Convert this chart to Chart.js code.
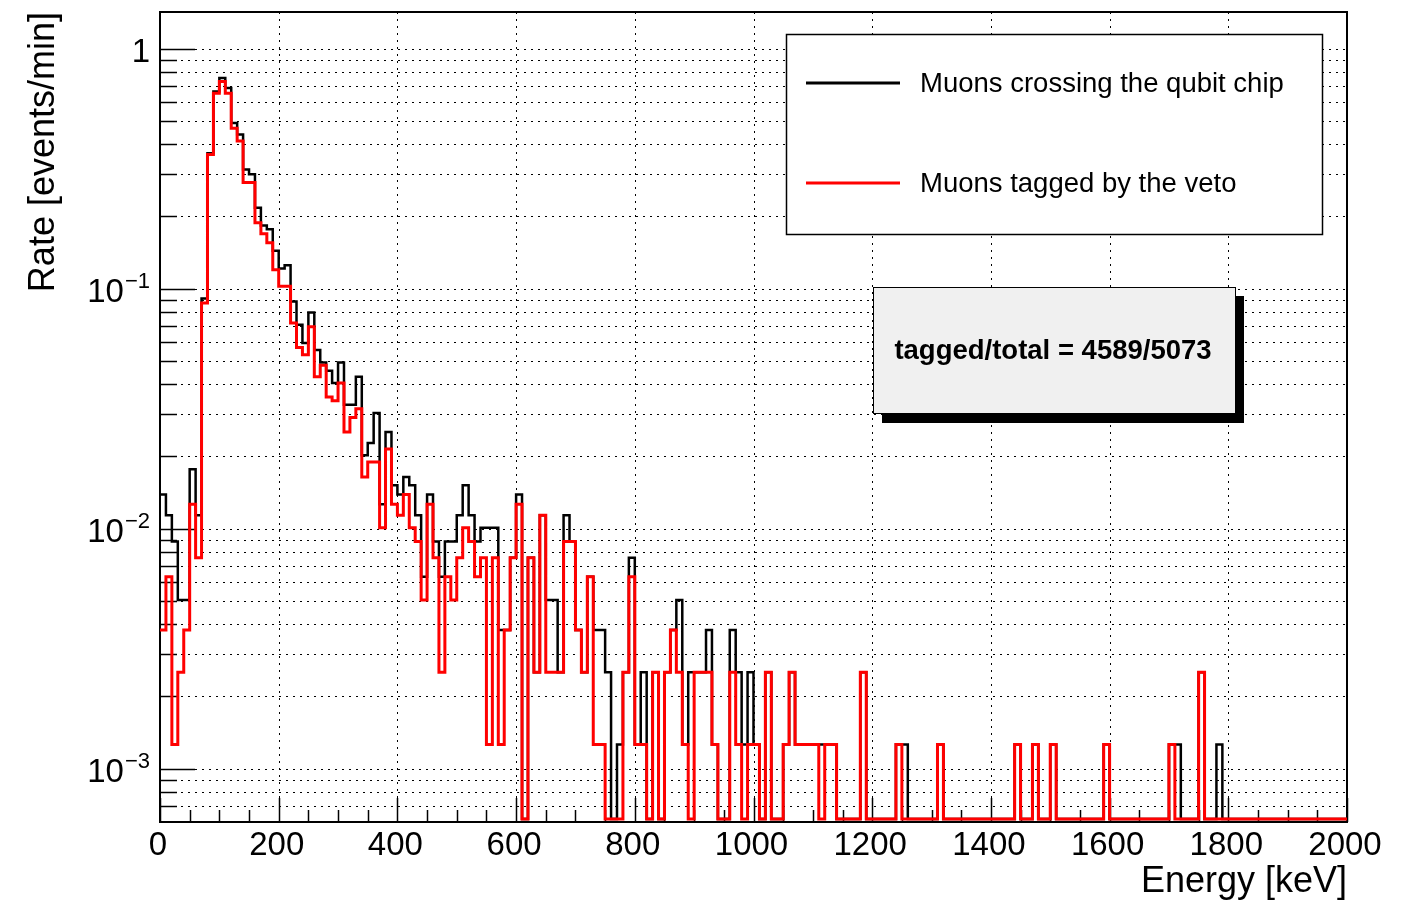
<!DOCTYPE html>
<html>
<head>
<meta charset="utf-8">
<script src="https://cdn.jsdelivr.net/npm/chart.js@4.4.1/dist/chart.umd.min.js"></script>
<style>
  html, body { margin: 0; padding: 0; background: #fff; }
  #wrap { width: 1411px; height: 901px; }
</style>
</head>
<body>
<div id="wrap"><canvas id="chart" width="1411" height="901"></canvas></div>
<script>
// histogram: 200 bins of 10 keV, counts per bin, rate = counts / live time
const binWidth = 10;
const liveTimeMin = 792;

const totalCounts = [
  11, 9, 7, 4, 4, 14, 9, 72, 290, 525,
  597, 542, 388, 347, 248, 237, 172, 145, 140, 114,
  96, 99, 70, 56, 47, 63, 44, 39, 36, 32,
  39, 26, 26, 34, 16, 18, 24, 10, 20, 12,
  11, 13, 12, 9, 5, 11, 7, 5, 7, 7,
  9, 12, 9, 7, 8, 8, 8, 3, 3, 6,
  11, 0, 6, 2, 9, 4, 4, 2, 9, 7,
  3, 2, 5, 3, 3, 2, 0, 1, 2, 6,
  1, 2, 0, 2, 0, 2, 3, 4, 1, 2,
  2, 2, 3, 1, 0, 0, 3, 2, 1, 2,
  1, 0, 2, 0, 0, 1, 2, 1, 1, 1,
  1, 1, 1, 1, 0, 0, 0, 0, 2, 0,
  0, 0, 0, 0, 1, 1, 0, 0, 0, 0,
  0, 1, 0, 0, 0, 0, 0, 0, 0, 0,
  0, 0, 0, 0, 1, 0, 0, 1, 0, 0,
  1, 0, 0, 0, 0, 0, 0, 0, 0, 1,
  0, 0, 0, 0, 0, 0, 0, 0, 0, 0,
  1, 1, 0, 0, 0, 2, 0, 0, 1, 0,
  0, 0, 0, 0, 0, 0, 0, 0, 0, 0,
  0, 0, 0, 0, 0, 0, 0, 0, 0, 0
];

const taggedCounts = [
  3, 5, 1, 2, 3, 10, 6, 69, 287, 516,
  578, 516, 369, 326, 219, 219, 149, 134, 123, 95,
  81, 81, 57, 45, 42, 55, 34, 38, 28, 27,
  32, 20, 23, 25, 13, 15, 15, 8, 17, 10,
  9, 11, 8, 7, 4, 10, 6, 2, 5, 4,
  6, 8, 7, 5, 6, 1, 6, 1, 3, 6,
  10, 0, 6, 2, 9, 2, 2, 2, 7, 7,
  3, 2, 5, 1, 1, 0, 0, 0, 2, 5,
  1, 1, 0, 2, 0, 2, 3, 2, 1, 0,
  2, 2, 2, 1, 0, 0, 2, 1, 0, 1,
  1, 0, 2, 0, 0, 1, 2, 1, 1, 1,
  1, 0, 1, 1, 0, 0, 0, 0, 2, 0,
  0, 0, 0, 0, 1, 0, 0, 0, 0, 0,
  0, 1, 0, 0, 0, 0, 0, 0, 0, 0,
  0, 0, 0, 0, 1, 0, 0, 1, 0, 0,
  1, 0, 0, 0, 0, 0, 0, 0, 0, 1,
  0, 0, 0, 0, 0, 0, 0, 0, 0, 0,
  1, 0, 0, 0, 0, 2, 0, 0, 0, 0,
  0, 0, 0, 0, 0, 0, 0, 0, 0, 0,
  0, 0, 0, 0, 0, 0, 0, 0, 0, 0
];

const seriesLabels = ["Muons crossing the qubit chip", "Muons tagged by the veto"];
const seriesColors = ["#000000", "#ff0000"];
const statsText = "tagged/total = 4589/5073";

const xMin = 0, xMax = 2000;
const xTicks = [0, 200, 400, 600, 800, 1000, 1200, 1400, 1600, 1800, 2000];
const xMinorStep = 50;
const yMin = 6.18e-4, yMax = 1.42;
const yDecades = [1, 0.1, 0.01, 0.001];
const yDecadeExp = [0, -1, -2, -3];

const FONT = "'Liberation Sans', Arial, Helvetica, sans-serif";

// log grid positions 1..9 x 10^n inside the axis range
function yGridValues() {
    const vals = [];
    for (let e = -4; e <= 0; e++) {
        for (let m = 1; m <= 9; m++) {
            const v = m * Math.pow(10, e);
            if (v > yMin && v < yMax) vals.push(v);
        }
    }
    return vals;
}

// histogram outline: one point per bin low edge (value held to the next edge),
// plus the upper edge of the last bin
function toSteps(counts) {
    const rate = c => (c > 0 ? c / liveTimeMin : yMin);
    const pts = counts.map((c, i) => ({ x: i * binWidth, y: rate(c) }));
    pts.push({ x: counts.length * binWidth, y: rate(counts[counts.length - 1]) });
    return pts;
}

function line(ctx, x1, y1, x2, y2) {
    ctx.beginPath();
    ctx.moveTo(x1, y1);
    ctx.lineTo(x2, y2);
    ctx.stroke();
}

const rootStyle = {
    id: "rootStyle",
    beforeDatasetsDraw(chart) {
        const { ctx, chartArea: a, scales: { x, y } } = chart;
        ctx.save();

        // dotted grid
        ctx.strokeStyle = "#000";
        ctx.lineWidth = 1;
        ctx.setLineDash([2, 5]);
        xTicks.forEach(v => {
            if (v <= xMin || v >= xMax) return;
            const px = Math.round(x.getPixelForValue(v)) + 0.5;
            line(ctx, px, a.top, px, a.bottom);
        });
        yGridValues().forEach(v => {
            const py = Math.round(y.getPixelForValue(v)) + 0.5;
            line(ctx, a.left, py, a.right, py);
        });
        ctx.setLineDash([]);

        // frame
        ctx.lineWidth = 2;
        ctx.strokeRect(a.left, a.top, a.right - a.left, a.bottom - a.top);

        // ticks inside the frame
        ctx.lineWidth = 1.5;
        yGridValues().forEach(v => {
            const py = Math.round(y.getPixelForValue(v)) + 0.5;
            const major = yDecades.some(d => Math.abs(d - v) / d < 1e-6);
            line(ctx, a.left, py, a.left + (major ? 35 : 17), py);
        });
        for (let v = xMin; v <= xMax; v += xMinorStep) {
            const px = Math.round(x.getPixelForValue(v)) + 0.5;
            const major = xTicks.includes(v);
            line(ctx, px, a.bottom, px, a.bottom - (major ? 24 : 12));
        }
        ctx.restore();
    },
    afterDatasetsDraw(chart) {
        const { ctx, chartArea: a, scales: { x, y } } = chart;
        ctx.save();
        ctx.fillStyle = "#000";

        // x tick labels
        ctx.font = "33px " + FONT;
        ctx.textAlign = "center";
        ctx.textBaseline = "alphabetic";
        xTicks.forEach(v => {
            ctx.fillText(String(v), x.getPixelForValue(v) - 2, 855);
        });

        // y tick labels, 10 with superscript exponent
        yDecades.forEach((v, i) => {
            const py = y.getPixelForValue(v);
            const e = yDecadeExp[i];
            ctx.textAlign = "right";
            if (e === 0) {
                ctx.font = "33px " + FONT;
                ctx.fillText("1", 150, py + 13);
                return;
            }
            const sup = "\u2212" + Math.abs(e);
            ctx.font = "22px " + FONT;
            const ws = ctx.measureText(sup).width;
            ctx.fillText(sup, 150, py - 1);
            ctx.font = "33px " + FONT;
            ctx.fillText("10", 150 - ws - 1, py + 13);
        });

        // axis titles
        ctx.font = "36px " + FONT;
        ctx.textAlign = "right";
        ctx.fillText("Energy [keV]", a.right, 892);
        ctx.save();
        ctx.translate(54, a.top);
        ctx.rotate(-Math.PI / 2);
        ctx.fillText("Rate [events/min]", 0, 0);
        ctx.restore();

        // legend box
        ctx.fillStyle = "#fff";
        ctx.fillRect(786, 34, 536, 200);
        ctx.strokeStyle = "#000";
        ctx.lineWidth = 1.5;
        ctx.strokeRect(786.5, 34.5, 536, 200);
        const rows = [83, 183];
        rows.forEach((ry, i) => {
            ctx.strokeStyle = seriesColors[i];
            ctx.lineWidth = 3;
            line(ctx, 806, ry, 900, ry);
            ctx.fillStyle = "#000";
            ctx.font = "27.5px " + FONT;
            ctx.textAlign = "left";
            ctx.fillText(seriesLabels[i], 920, ry + 9);
        });

        // stats box with shadow
        ctx.fillStyle = "#000";
        ctx.fillRect(882, 296, 362, 127);
        ctx.fillStyle = "#f0f0f0";
        ctx.fillRect(873, 287, 362, 126);
        ctx.strokeStyle = "#000";
        ctx.lineWidth = 1;
        ctx.strokeRect(873.5, 287.5, 362, 126);
        ctx.fillStyle = "#000";
        ctx.font = "bold 27.5px " + FONT;
        ctx.textAlign = "center";
        ctx.fillText(statsText, 1053, 359);

        ctx.restore();
    }
};

new Chart(document.getElementById("chart"), {
    type: "line",
    data: {
        datasets: [
            {
                label: seriesLabels[1],
                data: toSteps(taggedCounts),
                borderColor: seriesColors[1],
                borderWidth: 3,
                stepped: "before",
                pointRadius: 0,
                fill: false,
                order: 0,
                clip: 4
            },
            {
                label: seriesLabels[0],
                data: toSteps(totalCounts),
                borderColor: seriesColors[0],
                borderWidth: 2.5,
                stepped: "before",
                pointRadius: 0,
                fill: false,
                order: 1,
                clip: 4
            }
        ]
    },
    options: {
        responsive: false,
        animation: false,
        devicePixelRatio: 1,
        layout: { padding: { left: 0, right: 64, top: 12, bottom: 0 } },
        plugins: { legend: { display: false }, tooltip: { enabled: false } },
        scales: {
            x: {
                type: "linear",
                min: xMin,
                max: xMax,
                grid: { display: false },
                border: { display: false },
                ticks: { display: false },
                afterFit: s => { s.height = 79; }
            },
            y: {
                type: "logarithmic",
                min: yMin,
                max: yMax,
                grid: { display: false },
                border: { display: false },
                ticks: { display: false },
                afterFit: s => { s.width = 160; }
            }
        }
    },
    plugins: [rootStyle]
});
</script>
</body>
</html>
